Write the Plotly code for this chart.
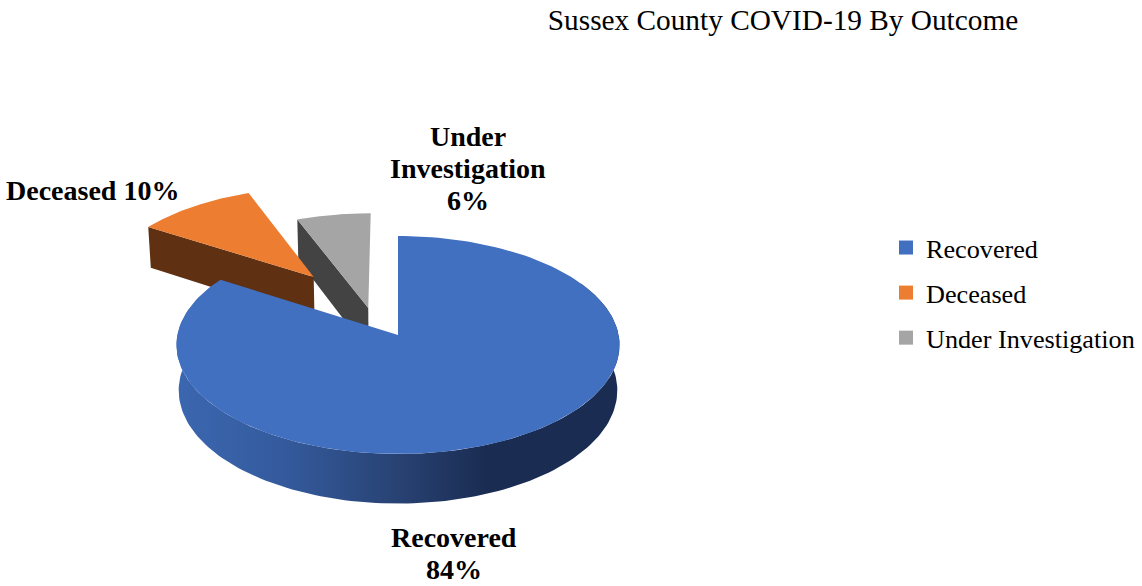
import numpy as np
import plotly.graph_objects as go

title = "Sussex County COVID-19 By Outcome"
categories = ["Recovered", "Deceased", "Under Investigation"]
values = [84, 10, 6]

top_colors = ["#4270C0", "#ED7D31", "#A5A5A5"]
cut_colors = [None, "#5F3112", "#434343"]
# Explosion of each slice, in units of the pie radius (right, away from viewer)
explode = [(0.0, 0.0), (-0.402, 0.565), (-0.138, 0.256)]
label_text = ["Recovered<br>{}%", "Deceased {}%", "Under<br>Investigation<br>{}%"]
label_pos = [(454, 537), (92, 190), (468, 136)]
LINE_STEP = 32

FONT = "Liberation Serif"
CX, CY, RX, RY, P, DEPTH, SHRINK = 398.0, 335.0, 220.6, 108.07, 0.0917, 45.0, 0.99


def project(u, v, drop=False):
    u, v = np.asarray(u, float), np.asarray(v, float)
    s = 1 / (1 + P * v)
    x = RX * u * s
    y = CY - RY * v * s
    if drop:
        return CX + x * SHRINK, y + DEPTH * s
    return CX + x, y


def arc(start, end, off=(0.0, 0.0), n=160):
    t = np.radians(np.linspace(start, end, n))
    return off[0] + np.sin(t), off[1] + np.cos(t)


total = sum(values)
fracs = np.cumsum([0] + values) / total * 360
fig = go.Figure()


def poly(x, y, color=None, **kw):
    fig.add_trace(go.Scatter(
        x=np.asarray(x), y=np.asarray(y), mode="lines", fill="toself",
        fillcolor=color, line=dict(width=0), hoverinfo="skip", showlegend=False, **kw))


# back-to-front: grey, orange, blue
for i in [2, 1]:
    off = explode[i]
    a0, a1 = fracs[i], fracs[i + 1]
    eu, ev = off[0] + np.sin(np.radians(a0)), off[1] + np.cos(np.radians(a0))
    tx, ty = project([eu, off[0]], [ev, off[1]])
    bx, by = project([eu, off[0]], [ev, off[1]], drop=True)
    poly(np.r_[tx, bx[::-1]], np.r_[ty, by[::-1]], cut_colors[i])
    u, v = arc(a0, a1, off)
    x, y = project(np.r_[off[0], u], np.r_[off[1], v])
    poly(x, y, top_colors[i])

# Recovered: curved wall with horizontal gradient, then the top face
u, v = arc(60, 300)
tx, ty = project(u, v)
bx, by = project(u, v, drop=True)
poly(np.r_[tx, bx[::-1]], np.r_[ty, by[::-1]],
     fillgradient=dict(type="horizontal", colorscale=[
         [0.0, "#3B67B0"], [0.25, "#345A9C"], [0.5, "#284273"],
         [0.7, "#1A2C52"], [1.0, "#1A2C52"]]))
u, v = arc(fracs[0], fracs[1])
x, y = project(np.r_[0, u], np.r_[0, v])
poly(x, y, top_colors[0])

# Legend entries
for name, color in zip(categories, top_colors):
    fig.add_trace(go.Scatter(
        x=[None], y=[None], mode="markers", name=name, legendgroup=name,
        marker=dict(symbol="square", size=14, color=color), hoverinfo="skip"))

annotations = []
for t, val, p in zip(label_text, values, label_pos):
    for k, line in enumerate(t.format(val).split("<br>")):
        annotations.append(dict(
            x=p[0], y=p[1] + k * LINE_STEP, text="<b>" + line + "</b>", showarrow=False,
            xref="x", yref="y", align="center",
            font=dict(family=FONT, size=28, color="#000000")))

fig.update_layout(
    width=1142, height=586, autosize=False,
    margin=dict(l=0, r=0, t=0, b=0),
    paper_bgcolor="#FFFFFF", plot_bgcolor="#FFFFFF",
    title=dict(text=title, x=783 / 1142, xanchor="center", y=1 - 20 / 586, yanchor="middle",
               font=dict(family=FONT, size=29.3, color="#000000")),
    xaxis=dict(range=[0, 1142], visible=False, fixedrange=True),
    yaxis=dict(range=[586, 0], visible=False, fixedrange=True),
    legend=dict(x=886 / 1142, xanchor="left", y=1 - 224 / 586, yanchor="top",
                font=dict(family=FONT, size=26.2, color="#000000"),
                tracegroupgap=8, bgcolor="rgba(0,0,0,0)"),
    annotations=annotations,
)
fig.write_html("out.html", post_script="document.body.style.margin='0';",
               config=dict(displayModeBar=False))
